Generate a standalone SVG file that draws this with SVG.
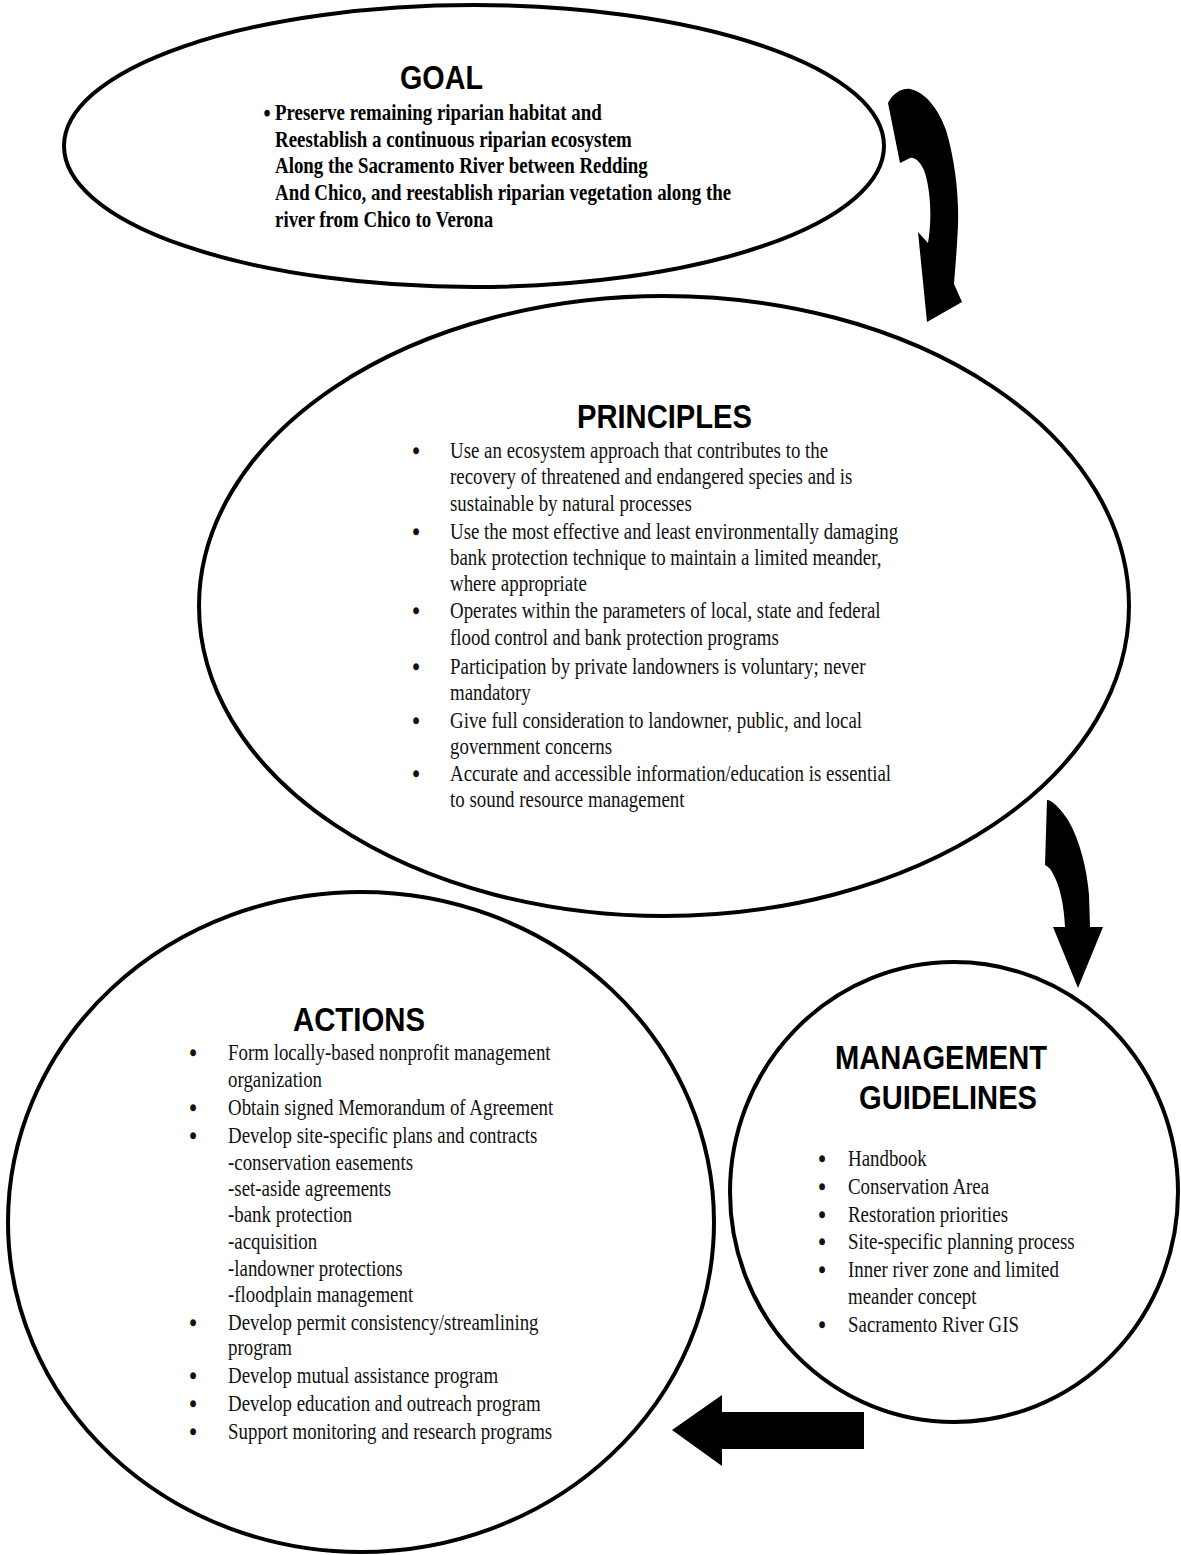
<svg xmlns="http://www.w3.org/2000/svg" width="1181" height="1555" viewBox="0 0 1181 1555">
  <style>
    .shape { fill: #ffffff; stroke: #000000; stroke-width: 4; }
    .head { font-family: "Liberation Sans", Arial, sans-serif; font-size: 33.5px; font-weight: bold; fill: #000; }
    .body { font-family: "Liberation Serif", "Times New Roman", serif; font-size: 22.5px; fill: #111; }
    .goaltext { font-family: "Liberation Serif", "Times New Roman", serif; font-size: 22.5px; font-weight: bold; fill: #000; }
    .bul { text-anchor: middle; stroke: #111; stroke-width: 1.6px; }
    .arrow { fill: #000000; stroke: none; }
  </style>

  <rect x="0" y="0" width="1181" height="1555" fill="#ffffff"/>

  <!-- Goal -->
  <g id="goal">
    <ellipse class="shape" cx="474" cy="146" rx="410" ry="141"/>
    <text class="head" x="400" y="89" textLength="83" lengthAdjust="spacingAndGlyphs">GOAL</text>
    <g class="goaltext" transform="matrix(0.84 0 0 1 275 0)">
      <text class="bul" x="-9.5" y="121" style="stroke-width:0.6px">•</text>
      <text x="0" y="120">Preserve remaining riparian habitat and</text>
      <text x="0" y="147">Reestablish a continuous riparian ecosystem</text>
      <text x="0" y="173">Along the Sacramento River between Redding</text>
      <text x="0" y="200">And Chico, and reestablish riparian vegetation along the</text>
      <text x="0" y="227">river from Chico to Verona</text>
    </g>
  </g>

  <!-- Principles -->
  <g id="principles">
    <ellipse class="shape" cx="664" cy="606" rx="465" ry="310"/>
    <text class="head" x="577" y="428" textLength="175" lengthAdjust="spacingAndGlyphs">PRINCIPLES</text>
    <g class="body" transform="matrix(0.84 0 0 1 450 0)">
      <text class="bul" x="-40.5" y="459">•</text>
      <text x="0" y="458">Use an ecosystem approach that contributes to the</text>
      <text x="0" y="484">recovery of threatened and endangered species and is</text>
      <text x="0" y="511">sustainable by natural processes</text>
      <text class="bul" x="-40.5" y="540">•</text>
      <text x="0" y="539">Use the most effective and least environmentally damaging</text>
      <text x="0" y="565">bank protection technique to maintain a limited meander,</text>
      <text x="0" y="591">where appropriate</text>
      <text class="bul" x="-40.5" y="619">•</text>
      <text x="0" y="618">Operates within the parameters of local, state and federal</text>
      <text x="0" y="645">flood control and bank protection programs</text>
      <text class="bul" x="-40.5" y="675">•</text>
      <text x="0" y="674">Participation by private landowners is voluntary; never</text>
      <text x="0" y="700">mandatory</text>
      <text class="bul" x="-40.5" y="729">•</text>
      <text x="0" y="728">Give full consideration to landowner, public, and local</text>
      <text x="0" y="754">government concerns</text>
      <text class="bul" x="-40.5" y="782">•</text>
      <text x="0" y="781">Accurate and accessible information/education is essential</text>
      <text x="0" y="807">to sound resource management</text>
    </g>
  </g>

  <!-- Actions -->
  <g id="actions">
    <ellipse class="shape" cx="361" cy="1222" rx="353" ry="330"/>
    <text class="head" x="293" y="1031" textLength="132" lengthAdjust="spacingAndGlyphs">ACTIONS</text>
    <g class="body" transform="matrix(0.84 0 0 1 228 0)">
      <text class="bul" x="-41.7" y="1061">•</text>
      <text x="0" y="1060">Form locally-based nonprofit management</text>
      <text x="0" y="1087">organization</text>
      <text class="bul" x="-41.7" y="1116">•</text>
      <text x="0" y="1115">Obtain signed Memorandum of Agreement</text>
      <text class="bul" x="-41.7" y="1144">•</text>
      <text x="0" y="1143">Develop site-specific plans and contracts</text>
      <text x="0" y="1170">-conservation easements</text>
      <text x="0" y="1196">-set-aside agreements</text>
      <text x="0" y="1222">-bank protection</text>
      <text x="0" y="1249">-acquisition</text>
      <text x="0" y="1276">-landowner protections</text>
      <text x="0" y="1302">-floodplain management</text>
      <text class="bul" x="-41.7" y="1331">•</text>
      <text x="0" y="1330">Develop permit consistency/streamlining</text>
      <text x="0" y="1355">program</text>
      <text class="bul" x="-41.7" y="1384">•</text>
      <text x="0" y="1383">Develop mutual assistance program</text>
      <text class="bul" x="-41.7" y="1412">•</text>
      <text x="0" y="1411">Develop education and outreach program</text>
      <text class="bul" x="-41.7" y="1440">•</text>
      <text x="0" y="1439">Support monitoring and research programs</text>
    </g>
  </g>

  <!-- Management guidelines -->
  <g id="management-guidelines">
    <ellipse class="shape" cx="954" cy="1192" rx="224" ry="230"/>
    <text class="head" x="835" y="1069" textLength="212" lengthAdjust="spacingAndGlyphs">MANAGEMENT</text>
    <text class="head" x="859" y="1109" textLength="178" lengthAdjust="spacingAndGlyphs">GUIDELINES</text>
    <g class="body" transform="matrix(0.84 0 0 1 848 0)">
      <text class="bul" x="-31" y="1167">•</text>
      <text x="0" y="1166">Handbook</text>
      <text class="bul" x="-31" y="1195">•</text>
      <text x="0" y="1194">Conservation Area</text>
      <text class="bul" x="-31" y="1223">•</text>
      <text x="0" y="1222">Restoration priorities</text>
      <text class="bul" x="-31" y="1250">•</text>
      <text x="0" y="1249">Site-specific planning process</text>
      <text class="bul" x="-31" y="1278">•</text>
      <text x="0" y="1277">Inner river zone and limited</text>
      <text x="0" y="1304">meander concept</text>
      <text class="bul" x="-31" y="1333">•</text>
      <text x="0" y="1332">Sacramento River GIS</text>
    </g>
  </g>

  <!-- Block arrows between the stages -->
  <g id="connectors">
    <path class="arrow" d="M 888,103 C 893,93 902,88 910,89 C 925,92 938,108 946,130 C 955,160 959,195 958,225 C 957,250 955,270 954,284 L 962,302 L 927,322 L 918,232 L 928,243 C 932,220 931,190 924,170 C 919,160 914,157 910,158 L 900,163 Z"/>
    <path class="arrow" d="M 1047,800 C 1052,800 1060,808 1068,820 C 1080,840 1087,870 1089,895 L 1090,927 L 1103,927 L 1078,988 L 1053,927 L 1065,927 C 1064,905 1060,885 1052,872 C 1050,868 1047,866 1045,865 Z"/>
    <polygon class="arrow" points="672,1430 722,1395 722,1412 864,1412 864,1449 722,1449 722,1466"/>
  </g>
</svg>
